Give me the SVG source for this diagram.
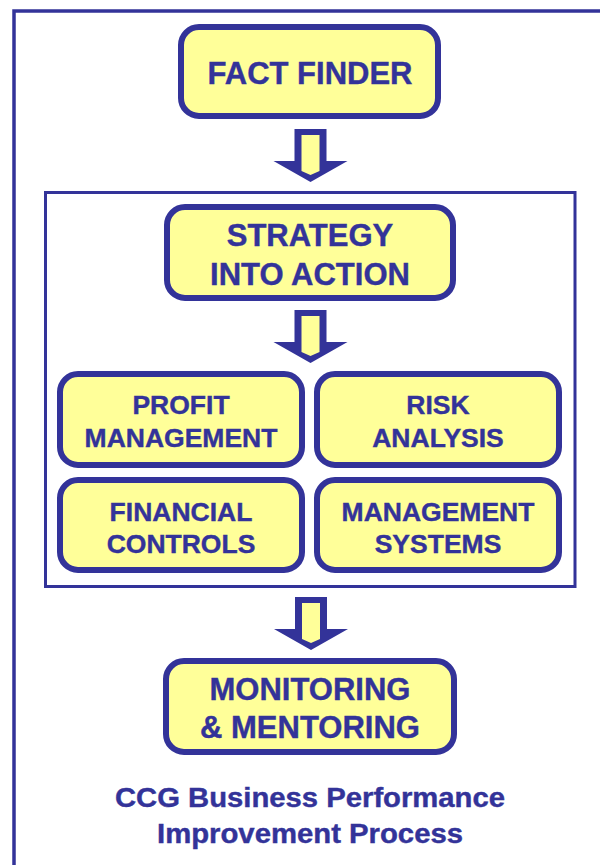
<svg xmlns="http://www.w3.org/2000/svg" width="600" height="865" viewBox="0 0 600 865">
<style>
.frame{fill:none;stroke:#333399}
.box{fill:#ffff99;stroke:#333399;stroke-width:6}
.t{font-family:"Liberation Sans",Arial,Helvetica,sans-serif;font-weight:bold;fill:#333399;stroke:#333399;stroke-width:0.4;text-anchor:middle}
.big{font-size:31px}
.mid{font-size:26.5px}
.cap{font-size:27px}
.ao{fill:#333399}
.ai{fill:#ffff99}
</style>
<defs>
<g id="arr">
<path class="ao" d="M-16,0 H16 V32 H37 L0,53 L-37,32 H-16 Z"/>
<path class="ai" d="M-9,6 H9 V42 L0,46 L-9,42 Z"/>
</g>
</defs>
<rect width="600" height="865" fill="#ffffff"/>
<rect id="outer-frame" class="frame" x="14" y="11" width="640" height="900" stroke-width="3.5"/>
<rect id="inner-frame" class="frame" x="45.5" y="192.5" width="529.5" height="394" stroke-width="3"/>
<g id="connectors">
<use href="#arr" transform="translate(310.5,129)"/>
<use href="#arr" transform="translate(310.5,310)"/>
<use href="#arr" transform="translate(311,597)"/>
</g>
<g id="fact-finder">
<rect class="box" x="181" y="27" width="257" height="89" rx="18"/>
<text class="t big" x="310" y="84">FACT FINDER</text>
</g>
<g id="strategy">
<rect class="box" x="167" y="207" width="286" height="91" rx="18"/>
<text class="t big" x="310" y="246">STRATEGY</text>
<text class="t big" x="310" y="285">INTO ACTION</text>
</g>
<g id="profit">
<rect class="box" x="60" y="374" width="242" height="91" rx="18"/>
<text class="t mid" x="181" y="414">PROFIT</text>
<text class="t mid" x="181" y="447">MANAGEMENT</text>
</g>
<g id="risk">
<rect class="box" x="317" y="374" width="242" height="91" rx="18"/>
<text class="t mid" x="438" y="414">RISK</text>
<text class="t mid" x="438" y="447">ANALYSIS</text>
</g>
<g id="financial">
<rect class="box" x="60" y="480" width="242" height="90" rx="18"/>
<text class="t mid" x="181" y="521">FINANCIAL</text>
<text class="t mid" x="181" y="553">CONTROLS</text>
</g>
<g id="mgmt-systems">
<rect class="box" x="317" y="480" width="242" height="90" rx="18"/>
<text class="t mid" x="438" y="521">MANAGEMENT</text>
<text class="t mid" x="438" y="553">SYSTEMS</text>
</g>
<g id="monitoring">
<rect class="box" x="166" y="661" width="288" height="91" rx="18"/>
<text class="t big" x="310" y="700">MONITORING</text>
<text class="t big" x="310" y="738">&amp; MENTORING</text>
</g>
<g id="caption">
<text class="t cap" x="310" y="807" textLength="390" lengthAdjust="spacingAndGlyphs">CCG Business Performance</text>
<text class="t cap" x="310" y="843" textLength="306" lengthAdjust="spacingAndGlyphs">Improvement Process</text>
</g>
</svg>
